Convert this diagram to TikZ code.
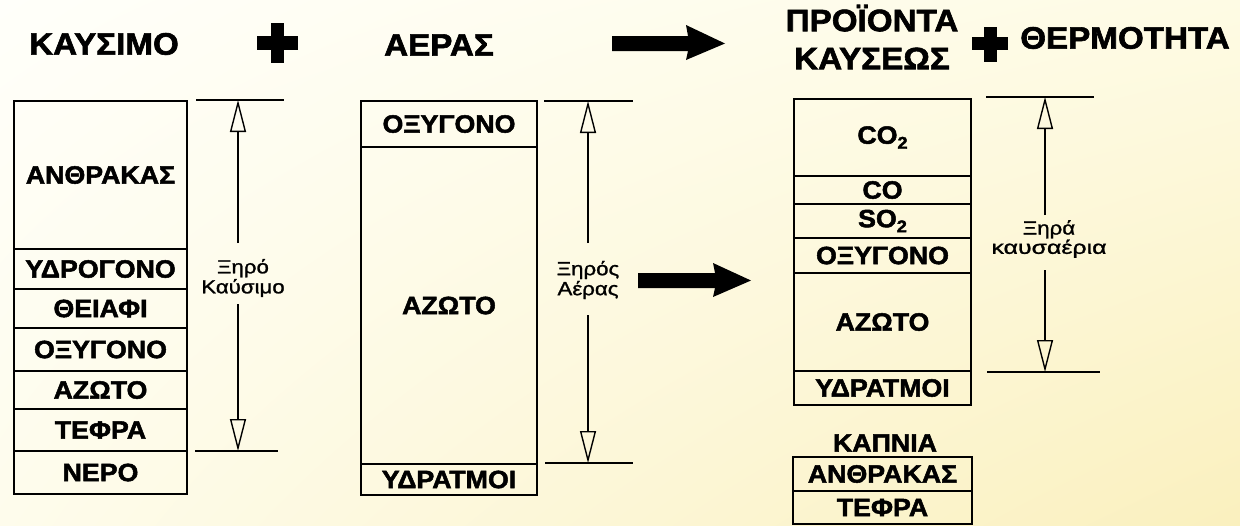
\documentclass[tikz,border=0pt]{standalone}
\usepackage{fontspec}
\setmainfont{Liberation Sans}[FakeStretch=1.07, BoldFeatures={FakeBold=2}]
\newfontfamily\labelfont{Liberation Sans}[FakeStretch=1.17, FakeBold=1.2]
\usetikzlibrary{arrows.meta,shadings}
\definecolor{bgUL}{RGB}{255,255,250}
\definecolor{bgUR}{RGB}{254,251,228}
\definecolor{bgLL}{RGB}{254,252,236}
\definecolor{bgLR}{RGB}{250,240,190}
\newcommand\cellnode[6]{\node[cellbox, minimum width={#2pt-#1pt}, minimum height={#4pt-#3pt}] (#5) at ({(#1+#2)/2},{(#3+#4)/2}) {#6};}
\newcommand\subtwo{\raisebox{-5pt}{\fontsize{17}{17}\selectfont 2}}
\begin{document}
\begin{tikzpicture}[x=1pt,y=-1pt,
  cellbox/.style={draw, line width=2.5pt, inner sep=0pt, font=\fontsize{25}{30}\selectfont\bfseries},
  titletext/.style={inner sep=0pt, font=\fontsize{31}{38}\selectfont\bfseries, align=center},
  dimlabel/.style={inner sep=0pt, font=\labelfont\fontsize{19}{20}\selectfont, align=center},
  dimline/.style={line width=1.6pt},
  dimarrow/.style={line width=1.4pt, -{Triangle[open, length=32pt, width=16pt, line width=1.4pt]}},
  bigshape/.style={fill=black}]
\useasboundingbox (0,0) rectangle (1240,525);
\shade[upper left=bgUL, upper right=bgUR, lower left=bgLL, lower right=bgLR]
       (0,0) rectangle (1240,525);

% titles
\node[titletext] (t1) at (104,44) {ΚΑΥΣΙΜΟ};
\node[titletext] (t2) at (439,45) {ΑΕΡΑΣ};
\node[titletext] (t3) at (872,37) {ΠΡΟΪΟΝΤΑ\\ΚΑΥΣΕΩΣ};
\node[titletext] (t4) at (1125,38) {ΘΕΡΜΟΤΗΤΑ};

% plus signs
\fill[bigshape] (271,23) rectangle (284,63);
\fill[bigshape] (257,36) rectangle (298,50);
\fill[bigshape] (984,27) rectangle (997,62);
\fill[bigshape] (972,37) rectangle (1008,50);

% big arrows
\fill[bigshape] (612,36) -- (688,36) -- (686,25) -- (725,43.5) -- (686,60) -- (688,51) -- (612,51) -- cycle;
\fill[bigshape] (638,273) -- (715,273) -- (713,263) -- (751,280.5) -- (713,297) -- (715,288) -- (638,288) -- cycle;

% fuel column
\cellnode{14}{187}{101}{249}{f1}{ΑΝΘΡΑΚΑΣ}
\cellnode{14}{187}{249}{289}{f2}{ΥΔΡΟΓΟΝΟ}
\cellnode{14}{187}{289}{328}{f3}{ΘΕΙΑΦΙ}
\cellnode{14}{187}{328}{371}{f4}{ΟΞΥΓΟΝΟ}
\cellnode{14}{187}{371}{409}{f5}{ΑΖΩΤΟ}
\cellnode{14}{187}{409}{451}{f6}{ΤΕΦΡΑ}
\cellnode{14}{187}{451}{494}{f7}{ΝΕΡΟ}

% air column
\cellnode{361}{537}{101}{147}{a1}{ΟΞΥΓΟΝΟ}
\cellnode{361}{537}{147}{464}{a2}{ΑΖΩΤΟ}
\cellnode{361}{537}{464}{495}{a3}{ΥΔΡΑΤΜΟΙ}

% products column
\cellnode{794}{971}{99}{176}{p1}{CO\subtwo}
\cellnode{794}{971}{176}{204}{p2}{CO}
\cellnode{794}{971}{204}{238}{p3}{SO\subtwo}
\cellnode{794}{971}{238}{273}{p4}{ΟΞΥΓΟΝΟ}
\cellnode{794}{971}{273}{371}{p5}{ΑΖΩΤΟ}
\cellnode{794}{971}{371}{405}{p6}{ΥΔΡΑΤΜΟΙ}

% soot
\node[inner sep=0pt, font=\fontsize{25}{30}\selectfont\bfseries] (kap) at (885,443) {ΚΑΠΝΙΑ};
\cellnode{793}{972}{457}{491}{s1}{ΑΝΘΡΑΚΑΣ}
\cellnode{793}{972}{491}{524}{s2}{ΤΕΦΡΑ}

% dimension 1
\coordinate (d1ta) at (196,100); \coordinate (d1tb) at (284,100);
\coordinate (d1ba) at (195,451); \coordinate (d1bb) at (278,451);
\coordinate (d1top) at (238,100); \coordinate (d1bot) at (238,451);
\coordinate (d1u) at (238,243); \coordinate (d1d) at (238,304);
\draw[dimline] (d1ta) -- (d1tb);
\draw[dimline] (d1ba) -- (d1bb);
\node[dimlabel] (l1) at (243,278) {Ξηρό\\Καύσιμο};
\draw[dimarrow] (d1u) -- (d1top);
\draw[dimarrow] (d1d) -- (d1bot);

% dimension 2
\coordinate (d2ta) at (544,101); \coordinate (d2tb) at (633,101);
\coordinate (d2ba) at (545,463); \coordinate (d2bb) at (633,463);
\coordinate (d2top) at (588,101); \coordinate (d2bot) at (588,463);
\coordinate (d2u) at (588,243); \coordinate (d2d) at (588,315);
\draw[dimline] (d2ta) -- (d2tb);
\draw[dimline] (d2ba) -- (d2bb);
\node[dimlabel] (l2) at (588,280) {Ξηρός\\Αέρας};
\draw[dimarrow] (d2u) -- (d2top);
\draw[dimarrow] (d2d) -- (d2bot);

% dimension 3
\coordinate (d3ta) at (986,97); \coordinate (d3tb) at (1094,97);
\coordinate (d3ba) at (987,372); \coordinate (d3bb) at (1100,372);
\coordinate (d3top) at (1045,97); \coordinate (d3bot) at (1045,372);
\coordinate (d3u) at (1045,215); \coordinate (d3d) at (1045,270);
\draw[dimline] (d3ta) -- (d3tb);
\draw[dimline] (d3ba) -- (d3bb);
\node[dimlabel, font=\labelfont\fontsize{19}{18}\selectfont] (l3) at (1049,239) {Ξηρά\\\scalebox{1.12}[1]{καυσαέρια}};
\draw[dimarrow] (d3u) -- (d3top);
\draw[dimarrow] (d3d) -- (d3bot);
\end{tikzpicture}
\end{document}
